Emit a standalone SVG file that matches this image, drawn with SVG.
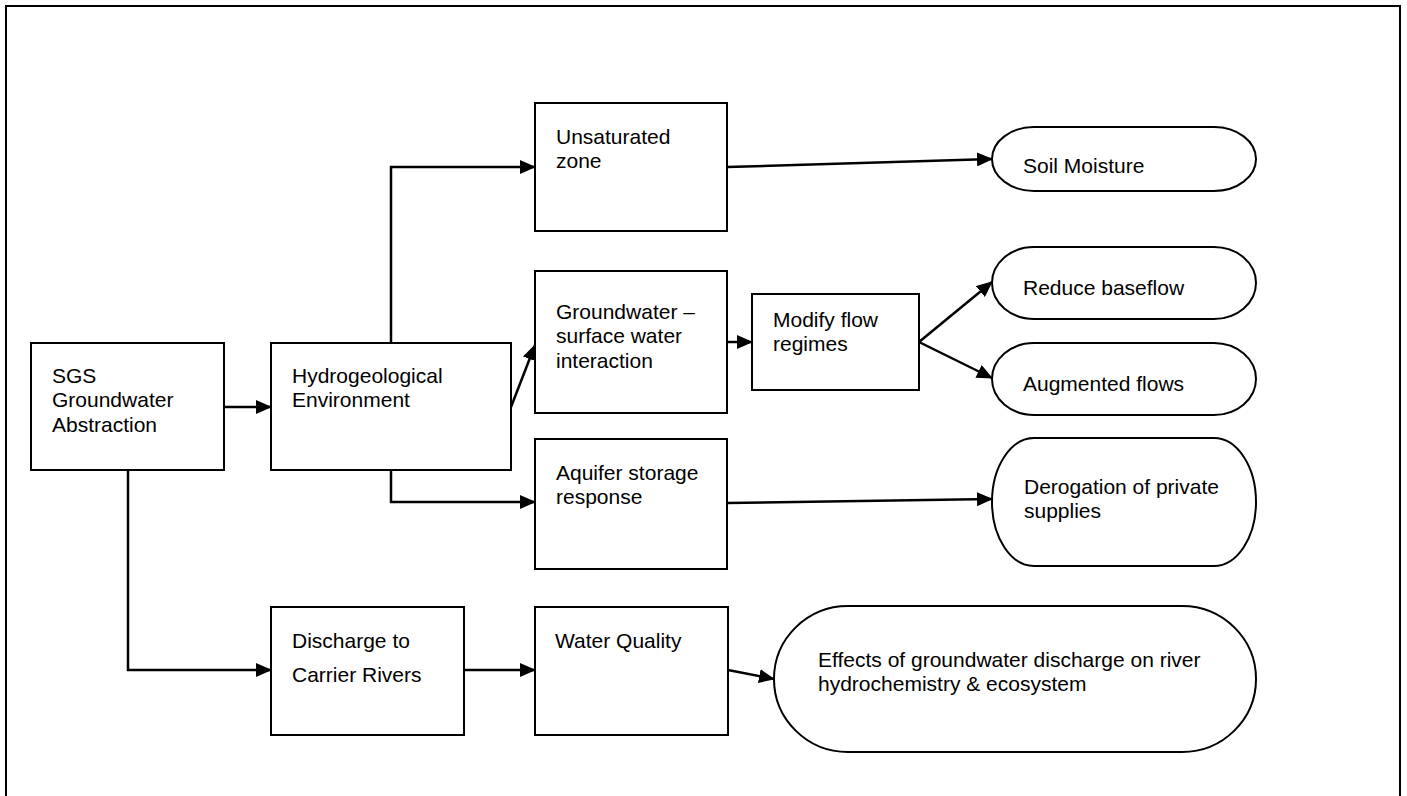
<svg xmlns="http://www.w3.org/2000/svg" width="1407" height="796" viewBox="0 0 1407 796">
<style>
.box{fill:#fff;stroke:#000;stroke-width:2}
.t{font-family:"Liberation Sans",Arial,sans-serif;font-size:21px;fill:#000}
.c{fill:none;stroke:#000;stroke-width:2.5}
</style>
<defs>
<marker id="ah" markerUnits="userSpaceOnUse" markerWidth="16" markerHeight="14" refX="15" refY="7" orient="auto">
<path d="M0,0 L16,7 L0,14 Z" fill="#000"/>
</marker>
</defs>
<rect width="1407" height="796" fill="#fff"/>
<rect x="6" y="6" width="1394" height="820" fill="none" stroke="#000" stroke-width="2"/>
<g id="connectors">
<path class="c" d="M224,407 L271,407" marker-end="url(#ah)"/>
<path class="c" d="M391,343 L391,167 L535,167" marker-end="url(#ah)"/>
<path class="c" d="M511,407 L535,345" marker-end="url(#ah)"/>
<path class="c" d="M391,470 L391,502 L535,502" marker-end="url(#ah)"/>
<path class="c" d="M727,167 L992,159" marker-end="url(#ah)"/>
<path class="c" d="M727,342 L752,342" marker-end="url(#ah)"/>
<path class="c" d="M919,342 L992,282" marker-end="url(#ah)"/>
<path class="c" d="M919,342 L992,378" marker-end="url(#ah)"/>
<path class="c" d="M727,503 L992,499" marker-end="url(#ah)"/>
<path class="c" d="M128,470 L128,670 L271,670" marker-end="url(#ah)"/>
<path class="c" d="M464,670 L535,670" marker-end="url(#ah)"/>
<path class="c" d="M728,670 L774,679" marker-end="url(#ah)"/>
</g>
<g id="sgs">
<rect class="box" x="31" y="343" width="193" height="127"/>
<text class="t" x="52" y="383">SGS</text>
<text class="t" x="52" y="407">Groundwater</text>
<text class="t" x="52" y="432">Abstraction</text>
</g>
<g id="hydro">
<rect class="box" x="271" y="343" width="240" height="127"/>
<text class="t" x="292" y="383">Hydrogeological</text>
<text class="t" x="292" y="407">Environment</text>
</g>
<g id="unsat">
<rect class="box" x="535" y="103" width="192" height="128"/>
<text class="t" x="556" y="144">Unsaturated</text>
<text class="t" x="556" y="168">zone</text>
</g>
<g id="gwsw">
<rect class="box" x="535" y="271" width="192" height="142"/>
<text class="t" x="556" y="319">Groundwater –</text>
<text class="t" x="556" y="343">surface water</text>
<text class="t" x="556" y="368">interaction</text>
</g>
<g id="aquifer">
<rect class="box" x="535" y="439" width="192" height="130"/>
<text class="t" x="556" y="480">Aquifer storage</text>
<text class="t" x="556" y="504">response</text>
</g>
<g id="modify">
<rect class="box" x="752" y="294" width="167" height="96"/>
<text class="t" x="773" y="327">Modify flow</text>
<text class="t" x="773" y="351">regimes</text>
</g>
<g id="discharge">
<rect class="box" x="271" y="607" width="193" height="128"/>
<text class="t" x="292" y="648">Discharge to</text>
<text class="t" x="292" y="682">Carrier Rivers</text>
</g>
<g id="wq">
<rect class="box" x="535" y="607" width="193" height="128"/>
<text class="t" x="555" y="648">Water Quality</text>
</g>
<g id="soil">
<rect class="box" x="992" y="127" width="264" height="64" rx="42" ry="32"/>
<text class="t" x="1023" y="173">Soil Moisture</text>
</g>
<g id="reduce">
<rect class="box" x="992" y="247" width="264" height="72" rx="42" ry="36"/>
<text class="t" x="1023" y="295">Reduce baseflow</text>
</g>
<g id="augmented">
<rect class="box" x="992" y="343" width="264" height="72" rx="42" ry="36"/>
<text class="t" x="1023" y="391">Augmented flows</text>
</g>
<g id="derogation">
<rect class="box" x="992" y="438" width="264" height="128" rx="42" ry="64"/>
<text class="t" x="1024" y="494">Derogation of private</text>
<text class="t" x="1024" y="518">supplies</text>
</g>
<g id="effects">
<rect class="box" x="774" y="606" width="482" height="146" rx="74" ry="73"/>
<text class="t" x="818" y="667">Effects of groundwater discharge on river</text>
<text class="t" x="818" y="691">hydrochemistry &amp; ecosystem</text>
</g>
</svg>
